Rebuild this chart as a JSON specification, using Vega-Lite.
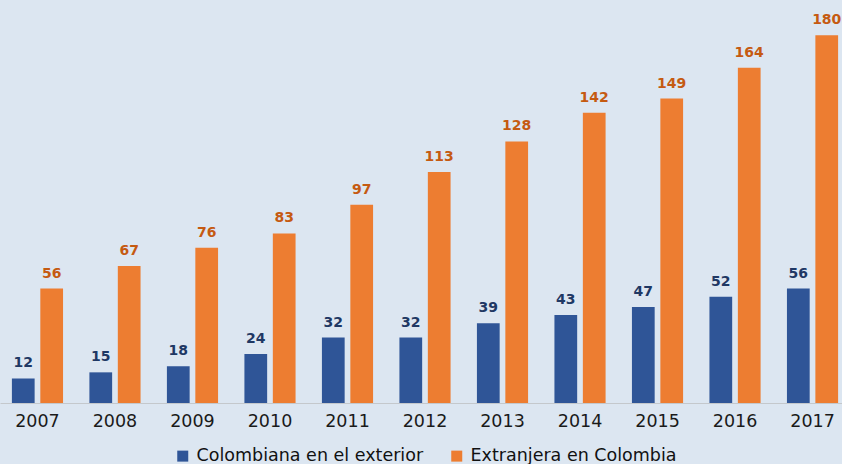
{
  "$schema": "https://vega.github.io/schema/vega-lite/v6.json",
  "width": 850,
  "height": 403,
  "autosize": {"type": "none"},
  "padding": {"left": 0, "top": 0, "right": 0, "bottom": 61},
  "background": "#dce6f1",
  "config": {"view": {"stroke": null}, "font": "DejaVu Sans"},
  "data": {
    "values": [
      {"year": "2007", "serie": "Colombiana en el exterior", "value": 12},
      {"year": "2007", "serie": "Extranjera en Colombia", "value": 56},
      {"year": "2008", "serie": "Colombiana en el exterior", "value": 15},
      {"year": "2008", "serie": "Extranjera en Colombia", "value": 67},
      {"year": "2009", "serie": "Colombiana en el exterior", "value": 18},
      {"year": "2009", "serie": "Extranjera en Colombia", "value": 76},
      {"year": "2010", "serie": "Colombiana en el exterior", "value": 24},
      {"year": "2010", "serie": "Extranjera en Colombia", "value": 83},
      {"year": "2011", "serie": "Colombiana en el exterior", "value": 32},
      {"year": "2011", "serie": "Extranjera en Colombia", "value": 97},
      {"year": "2012", "serie": "Colombiana en el exterior", "value": 32},
      {"year": "2012", "serie": "Extranjera en Colombia", "value": 113},
      {"year": "2013", "serie": "Colombiana en el exterior", "value": 39},
      {"year": "2013", "serie": "Extranjera en Colombia", "value": 128},
      {"year": "2014", "serie": "Colombiana en el exterior", "value": 43},
      {"year": "2014", "serie": "Extranjera en Colombia", "value": 142},
      {"year": "2015", "serie": "Colombiana en el exterior", "value": 47},
      {"year": "2015", "serie": "Extranjera en Colombia", "value": 149},
      {"year": "2016", "serie": "Colombiana en el exterior", "value": 52},
      {"year": "2016", "serie": "Extranjera en Colombia", "value": 164},
      {"year": "2017", "serie": "Colombiana en el exterior", "value": 56},
      {"year": "2017", "serie": "Extranjera en Colombia", "value": 180}
    ]
  },
  "encoding": {
    "x": {
      "field": "year",
      "type": "ordinal",
      "scale": {"paddingInner": 0.34, "paddingOuter": 0.1535},
      "axis": {
        "title": null,
        "labelAngle": 0,
        "labelFontSize": 17.5,
        "labelColor": "#1a1a1a",
        "labelFont": "DejaVu Sans",
        "ticks": false,
        "domainColor": "#c4c8cc",
        "labelPadding": 9
      }
    },
    "xOffset": {
      "field": "serie",
      "type": "nominal",
      "sort": ["Colombiana en el exterior", "Extranjera en Colombia"],
      "scale": {"paddingInner": 0.2}
    },
    "y": {
      "field": "value",
      "type": "quantitative",
      "scale": {"domain": [0, 197.2], "nice": false},
      "axis": null
    }
  },
  "layer": [
    {
      "mark": {"type": "bar"},
      "encoding": {
        "color": {
          "field": "serie",
          "type": "nominal",
          "scale": {
            "domain": ["Colombiana en el exterior", "Extranjera en Colombia"],
            "range": ["#2f5597", "#ed7d31"]
          },
          "legend": {
            "title": null,
            "orient": "none",
            "legendX": 174,
            "legendY": 447,
            "direction": "horizontal",
            "symbolType": "square",
            "symbolSize": 121,
            "symbolStrokeWidth": 0,
            "labelFontSize": 17.5,
            "labelColor": "#111111",
            "labelFont": "DejaVu Sans",
            "labelOffset": 5,
            "columnPadding": 24,
            "labelLimit": 400
          }
        }
      }
    },
    {
      "mark": {"type": "text", "baseline": "bottom", "dy": -8, "fontWeight": "bold", "fontSize": 14, "font": "DejaVu Sans"},
      "encoding": {
        "text": {"field": "value", "type": "quantitative"},
        "color": {
          "field": "serie",
          "type": "nominal",
          "scale": {
            "domain": ["Colombiana en el exterior", "Extranjera en Colombia"],
            "range": ["#1f3864", "#c55a11"]
          },
          "legend": null
        }
      }
    }
  ],
  "resolve": {"scale": {"color": "independent"}}
}
